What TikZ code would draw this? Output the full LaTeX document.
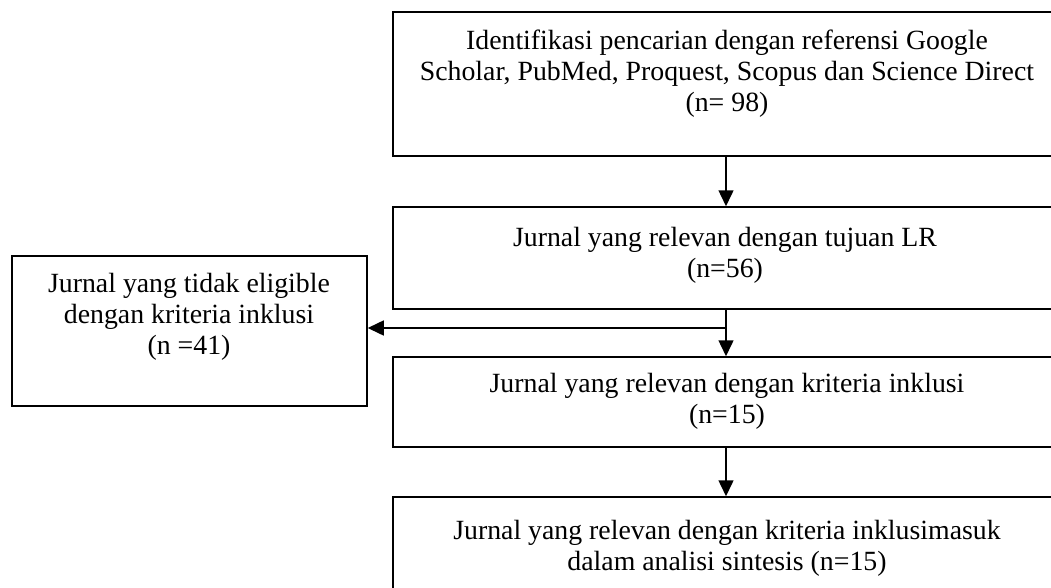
\documentclass[tikz,border=0pt]{standalone}
\usepackage{fontspec}
\setmainfont{Liberation Serif}
\usetikzlibrary{arrows.meta}
\begin{document}
\begin{tikzpicture}[x=1pt,y=-1pt,
  box/.style={draw=black, line width=1.5pt, rectangle, inner sep=0pt},
  txt/.style={align=center, inner sep=0pt, font=\fontsize{27.8}{31}\selectfont},
  arr/.style={line width=1.5pt, -{Triangle[width=15pt,length=16pt]}},
  ln/.style={line width=1.5pt}]
\useasboundingbox (0,0) rectangle (1051,588);
% boxes
\node[box, minimum width=667pt, minimum height=144pt] (b1) at (726.5,84) {};
\node[box, minimum width=667pt, minimum height=102pt] (b2) at (726.5,258) {};
\node[box, minimum width=355pt, minimum height=150pt] (b3) at (189.5,331) {};
\node[box, minimum width=667pt, minimum height=90pt] (b4) at (726.5,402) {};
\node[box, minimum width=667pt, minimum height=103pt] (b5) at (726.5,548.5) {};
% texts
\node[txt] (t1) at (727,74) {Identifikasi pencarian dengan referensi Google\\Scholar, PubMed, Proquest, Scopus dan Science Direct\\(n= 98)};
\node[txt] (t2) at (725,255) {Jurnal yang relevan dengan tujuan LR\\(n=56)};
\node[txt] (t3) at (189,317) {Jurnal yang tidak eligible\\dengan kriteria inklusi\\(n =41)};
\node[txt] (t4) at (727,401) {Jurnal yang relevan dengan kriteria inklusi\\(n=15)};
\node[txt] (t5) at (727,548) {Jurnal yang relevan dengan kriteria inklusimasuk\\dalam analisi sintesis (n=15)};
% connectors
\coordinate (col) at (726,0);
\coordinate (br) at (726,328);
\draw[arr] (b1.south -| col) -- (b2.north -| col);
\draw[arr] (b2.south -| col) -- (b4.north -| col);
\draw[arr] (br) -- (br -| b3.east);
\draw[arr] (b4.south -| col) -- (b5.north -| col);
\end{tikzpicture}
\end{document}
